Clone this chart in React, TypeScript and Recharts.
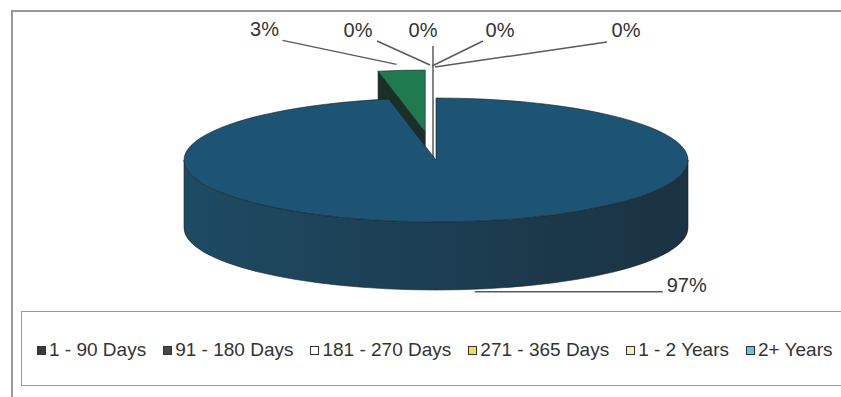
import { PieChart, Pie, Cell, Legend } from "recharts";

// aging buckets, share of balance in percent
const categories = ["1 - 90 Days", "91 - 180 Days", "181 - 270 Days", "271 - 365 Days", "1 - 2 Years", "2+ Years"];
const shares = [3, 0, 0, 0, 0, 97];
const percentLabels = ["3%", "0%", "0%", "0%", "0%", "97%"];

const topColors = ["#1f7a50", "#2e2e2e", "#ffffff", "#f2e05a", "#f3efc2", "#1d5473"];
const sideLight = ["#1e3b2d", "#262626", "#e5e5e5", "#d4c248", "#dcd7a8", "#1e4a63"];
const sideDark = ["#1a3026", "#1a1a1a", "#cccccc", "#bba936", "#c4bf93", "#1a3241"];
const legendColors = ["#3a3a3a", "#474747", "#ffffff", "#f0dc50", "#f2eebc", "#5cc8df"];

const W = 841;
const H = 397;
const CX = 436;
const CY = 160;
const RX = 252;
const TILT = 0.246; // ry / rx
const DEPTH = 68;
const EXPLODED = 0;
const EXPLODE = 114;

// label layout relative to each slice anchor: text centre, leader start, leader end
const labelLayout = [
  { tx: -137, ty: -34, lx: -119, ly: -30, ex: -5, ey: -6 },
  { tx: -78, ty: -61, lx: -59, ly: -57, ex: -6, ey: -33 },
  { tx: -13, ty: -61, lx: -3, ly: -52, ex: -3, ey: 59 },
  { tx: 64, ty: -61, lx: 47, ly: -57, ex: -4, ey: -32 },
  { tx: 190, ty: -61, lx: 171, ly: -56, ex: -1, ey: -31 },
  { tx: 227, ty: 2, lx: 203, ly: 2, ex: 15, ey: 2 },
];

const data = categories.map((name, i) => ({ name, value: shares[i] }));
const total = shares.reduce((a, b) => a + b, 0);
const START = 90 + (360 * shares[0]) / total;

const rad = (a: number) => (a * Math.PI) / 180;

function Slice3D(props: any) {
  const { index, startAngle, endAngle, cx, cy, outerRadius, midAngle } = props;
  const rx = outerRadius;
  const ry = outerRadius * TILT;
  let ox = cx;
  let oy = cy;
  if (index === EXPLODED) {
    ox += EXPLODE * Math.cos(rad(midAngle));
    oy -= EXPLODE * TILT * Math.sin(rad(midAngle));
  }
  const pt = (a: number, dy = 0) => [ox + rx * Math.cos(rad(a)), oy - ry * Math.sin(rad(a)) + dy];
  const lo = Math.min(startAngle, endAngle);
  const hi = Math.max(startAngle, endAngle);
  const span = hi - lo;
  const gid = `side-${index}`;
  const parts: any[] = [
    <defs key="defs">
      <linearGradient id={gid} x1="0" y1="0" x2="1" y2="0">
        <stop offset="0%" stopColor={sideLight[index]} />
        <stop offset="100%" stopColor={sideDark[index]} />
      </linearGradient>
    </defs>,
  ];

  if (span > 0.01) {
    // radial cut faces
    const face = (a: number, key: string) => {
      const [x, y] = pt(a);
      return (
        <path
          key={key}
          d={`M${ox},${oy} L${x},${y} L${x},${y + DEPTH} L${ox},${oy + DEPTH} Z`}
          fill={sideDark[index]}
          stroke="#15252c"
          strokeWidth={0.6}
        />
      );
    };
    if (Math.cos(rad(hi)) < -0.01) parts.push(face(hi, "fh"));
    if (Math.cos(rad(lo)) > 0.01) parts.push(face(lo, "fl"));

    // outer wall, front half only
    for (let k = -2; k <= 1; k++) {
      const s = Math.max(lo, 180 + 360 * k);
      const e = Math.min(hi, 360 + 360 * k);
      if (e - s > 0.01) {
        const [x1, y1] = pt(s);
        const [x2, y2] = pt(e);
        parts.push(
          <path
            key={`w${k}`}
            d={`M${x1},${y1} A${rx},${ry} 0 0 0 ${x2},${y2} L${x2},${y2 + DEPTH} A${rx},${ry} 0 0 1 ${x1},${y1 + DEPTH} Z`}
            fill={`url(#${gid})`}
            stroke="#15252c"
            strokeWidth={0.6}
          />
        );
      }
    }

    // top face
    const [x1, y1] = pt(lo);
    const [x2, y2] = pt(hi);
    parts.push(
      <path
        key="top"
        d={`M${ox},${oy} L${x1},${y1} A${rx},${ry} 0 ${span > 180 ? 1 : 0} 0 ${x2},${y2} Z`}
        fill={topColors[index]}
        stroke="#15252c"
        strokeWidth={0.6}
      />
    );
  }

  // label anchor: top rim for back slices, bottom of wall for front slices
  const front = Math.sin(rad(midAngle)) < 0;
  const [ax, ay] = pt(midAngle, front ? DEPTH : 0);
  const L = labelLayout[index];
  parts.push(
    <line
      key="lead"
      x1={ax + L.lx}
      y1={ay + L.ly}
      x2={ax + L.ex}
      y2={ay + L.ey}
      stroke="#5a5a5a"
      strokeWidth={1.5}
    />
  );
  parts.push(
    <text
      key="txt"
      x={ax + L.tx}
      y={ay + L.ty}
      textAnchor="middle"
      fontSize={20}
      fontFamily="'Liberation Sans', Arial, sans-serif"
      fill="#333"
    >
      {percentLabels[index]}
    </text>
  );
  return <g>{parts}</g>;
}

function LegendBox() {
  return (
    <div
      style={{
        display: "flex",
        alignItems: "center",
        gap: 17,
        height: "100%",
        paddingLeft: 15,
        paddingTop: 3,
        boxSizing: "border-box",
        fontFamily: "'Liberation Sans', Arial, sans-serif",
        fontSize: 19,
        color: "#333",
        whiteSpace: "nowrap",
      }}
    >
      {categories.map((c, i) => (
        <div key={c} style={{ display: "flex", alignItems: "center" }}>
          <span
            style={{
              width: 7,
              height: 7,
              background: legendColors[i],
              border: "1.5px solid #333",
              marginRight: 3,
              display: "inline-block",
            }}
          />
          {c}
        </div>
      ))}
    </div>
  );
}

export default function App() {
  return (
    <div style={{ position: "absolute", left: 0, top: 0, width: W, height: H, background: "#fff", overflow: "hidden" }}>
      <div
        style={{
          position: "absolute",
          left: 11,
          top: 10,
          width: W,
          height: H,
          borderTop: "2px solid #999",
          borderLeft: "2px solid #999",
        }}
      />
      <PieChart width={W} height={H} margin={{ top: 0, right: 0, bottom: 0, left: 0 }}>
        <Pie
          data={data}
          dataKey="value"
          nameKey="name"
          cx={CX}
          cy={CY}
          outerRadius={RX}
          startAngle={START}
          endAngle={START - 360}
          stroke="none"
          label={Slice3D}
          labelLine={false}
          isAnimationActive={false}
        >
          {data.map((d) => (
            <Cell key={d.name} fill="none" stroke="none" />
          ))}
        </Pie>
        <Legend
          content={() => <LegendBox />}
          wrapperStyle={{
            left: 21,
            top: 311,
            width: 840,
            height: 75,
            bottom: "auto",
            border: "1.5px solid #9a9a9a",
            boxSizing: "border-box",
          }}
        />
      </PieChart>
    </div>
  );
}
